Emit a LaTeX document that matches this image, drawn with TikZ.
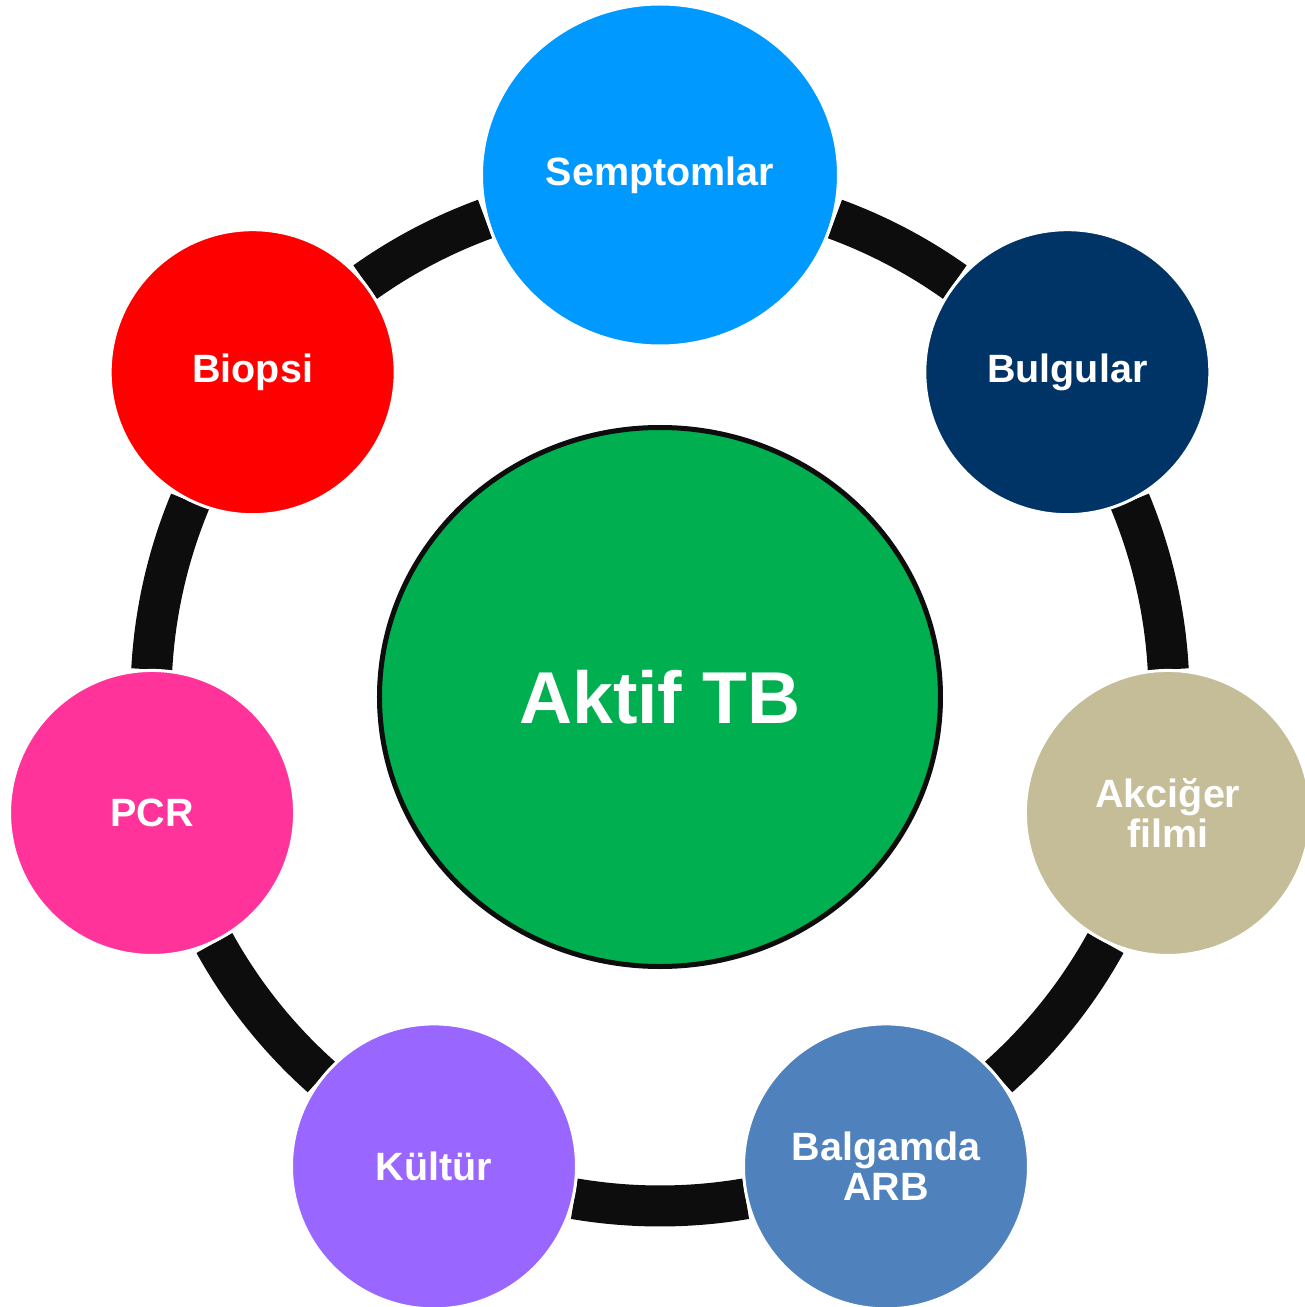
\documentclass[tikz,border=0pt]{standalone}
\usepackage{fontspec}
\setmainfont{Liberation Sans}
\usetikzlibrary{shapes.geometric}

\definecolor{ringblack}{HTML}{0D0D0D}
\definecolor{coregreen}{HTML}{00AF50}
\definecolor{cSem}{HTML}{0099FF}
\definecolor{cBul}{HTML}{003366}
\definecolor{cAkc}{HTML}{C4BD97}
\definecolor{cBal}{HTML}{4F81BD}
\definecolor{cKul}{HTML}{9966FF}
\definecolor{cPcr}{HTML}{FF3399}
\definecolor{cBio}{HTML}{FF0000}

\tikzset{
  ringarc/.style={draw=ringblack, line width=41pt, line cap=butt},
  satellite/.style={circle, minimum size=285pt, inner sep=0pt, draw=white,
    line width=3pt, text=white, align=center,
    font=\fontsize{39.5}{40.5}\selectfont\bfseries},
  corenode/.style={ellipse, minimum width=561pt, minimum height=539pt,
    inner sep=0pt, fill=coregreen, draw=ringblack, line width=5pt,
    text=white, font=\fontsize{73.5}{75}\selectfont\bfseries},
}

\begin{document}
\begin{tikzpicture}[x=1pt, y=1pt]
  \useasboundingbox (-660,-610) rectangle (645,697);

  % ring segments between neighbouring circles (start angle / end angle)
  \foreach \a/\b in {69.9/54.6, 22.6/3.1, -28.9/-48.3, -80.3/-99.7,
                     -131.7/-151.1, 176.9/157.4, 125.4/110.1}
    \draw[ringarc] (\a:509) arc[start angle=\a, end angle=\b, radius=509];

  % centre
  \node[corenode] (core) at (0,0) {Aktif TB};

  % satellites around the ring
  \node[satellite, ellipse, minimum width=357pt, minimum height=342pt,
        fill=cSem] (sem) at (90:522) {Semptomlar};
  \node[satellite, fill=cBul] (bul) at (38.57:521) {Bulgular};
  \node[satellite, fill=cAkc] (akc) at (-12.86:521) {Akciğer\\filmi};
  \node[satellite, fill=cBal] (bal) at (-64.29:521) {Balgamda\\ARB};
  \node[satellite, fill=cKul] (kul) at (-115.71:521) {Kültür};
  \node[satellite, fill=cPcr] (pcr) at (-167.14:521) {PCR};
  \node[satellite, fill=cBio] (bio) at (141.43:521) {Biopsi};
\end{tikzpicture}
\end{document}
